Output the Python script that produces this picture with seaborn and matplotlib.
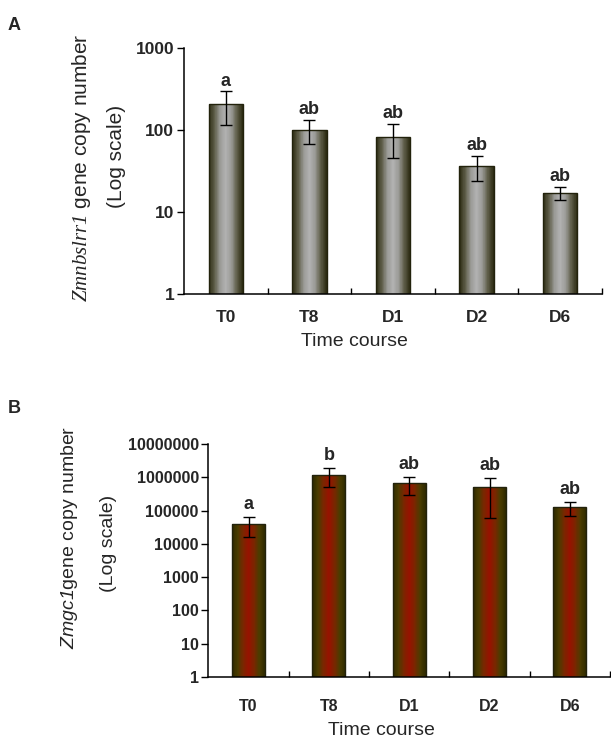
"""
Gene copy number over the time course (log scale bar charts, panels A and B)
"""

import numpy as np
import matplotlib
matplotlib.use('Agg')
import matplotlib.pyplot as plt
from matplotlib.colors import LinearSegmentedColormap
from matplotlib.ticker import NullLocator
import seaborn as sns

# data
times = ['T0', 'T8', 'D1', 'D2', 'D6']

a_means = [205, 100, 82, 36, 17]
a_err = [90, 32, 37, 12, 3]
a_letters = ['a', 'ab', 'ab', 'ab', 'ab']
a_yticks = [1, 10, 100, 1000]

b_means = [40000, 1200000, 670000, 520000, 127000]
b_err = [24000, 700000, 380000, 460000, 60000]
b_letters = ['a', 'b', 'ab', 'ab', 'ab']
b_yticks = [1, 10, 100, 1000, 10000, 100000, 1000000, 10000000]

sns.set_style('ticks')
plt.rcParams['font.family'] = ['Liberation Sans', 'DejaVu Sans']
plt.rcParams['mathtext.fontset'] = 'custom'
plt.rcParams['mathtext.it'] = 'Liberation Serif:italic'
plt.rcParams['mathtext.rm'] = 'Liberation Serif:italic'
plt.rcParams['mathtext.sf'] = 'Liberation Sans:italic'

SANS = ['Liberation Sans', 'DejaVu Sans']

grey_cmap = LinearSegmentedColormap.from_list(
    'grey_bar', ['#2e2d14', '#5e5d48', '#9a9a96', '#b2b2b2', '#9a9a96', '#5e5d48', '#2e2d14'])
red_cmap = LinearSegmentedColormap.from_list(
    'red_bar', ['#2f2a00', '#4a3c00', '#7a2600', '#981200', '#7a2600', '#4a3c00', '#2f2a00'])


def draw_panel(ax, means, errs, letters, cmap, yticks, xpad, ytick_size, xtick_size, letter_off):
    sns.barplot(x=times, y=means, ax=ax, width=0.41, color='white',
                edgecolor='#22220c', linewidth=1.0, errorbar=None, zorder=2)
    ax.set_yscale('log')
    ax.set_ylim(yticks[0], yticks[-1])
    ax.set_xlim(-0.5, 4.5)

    # gradient fill inside every bar
    for p in ax.patches:
        x0, w, top = p.get_x(), p.get_width(), p.get_height()
        xs = np.linspace(x0, x0 + w, 61)
        ax.pcolormesh(xs, [yticks[0], top], np.linspace(0, 1, 60)[None, :],
                      cmap=cmap, shading='flat', zorder=1.5)
        p.set_facecolor('none')

    ax.errorbar(range(len(times)), means, yerr=errs, fmt='none', ecolor='black',
                elinewidth=1.0, capsize=4.5, capthick=1.0, zorder=3)

    for i, (m, e, lab) in enumerate(zip(means, errs, letters)):
        ax.annotate(lab, xy=(i, m + e), xytext=(0, letter_off), textcoords='offset points',
                    ha='center', va='baseline', fontsize=13, fontweight='bold', family=SANS)

    ax.set_xticks(range(len(times)))
    ax.set_xticklabels(times, fontsize=xtick_size, fontweight='bold', family=SANS)
    ax.set_xticks(np.arange(0.5, 5, 1), minor=True)
    ax.tick_params(axis='x', which='major', length=0, pad=xpad)
    ax.tick_params(axis='x', which='minor', direction='in', length=4.5, width=1.0, color='black')

    ax.set_yticks(yticks)
    ax.set_yticklabels([str(v) for v in yticks], fontsize=ytick_size, fontweight='bold',
                       family=SANS)
    ax.yaxis.set_minor_locator(NullLocator())
    ax.tick_params(axis='y', which='major', direction='out', length=5, width=1.0,
                   color='black', pad=2)

    sns.despine(ax=ax)
    for s in ['left', 'bottom']:
        ax.spines[s].set_color('black')
        ax.spines[s].set_linewidth(1.1)
    ax.set_xlabel('')
    ax.set_ylabel('')


fig = plt.figure(figsize=(6.11, 7.40), dpi=100)
ax_a = fig.add_axes([0.3011, 0.6027, 0.6841, 0.3324])
ax_b = fig.add_axes([0.3412, 0.0851, 0.6571, 0.3149])

draw_panel(ax_a, a_means, a_err, a_letters, grey_cmap, a_yticks, xpad=11.5,
           ytick_size=12.5, xtick_size=12.5, letter_off=4.3)
draw_panel(ax_b, b_means, b_err, b_letters, red_cmap, b_yticks, xpad=16,
           ytick_size=11.5, xtick_size=11.5, letter_off=5.5)

# panel letters
fig.text(0.013, 0.977, 'A', fontsize=13, fontweight='bold', ha='left', va='top')
fig.text(0.013, 0.4595, 'B', fontsize=13, fontweight='bold', ha='left', va='top')

# y labels (two lines each)
fig.text(0.134, 0.773, r'$\mathit{Zmnbslrr1}$ gene copy number', rotation=90,
         fontsize=15, ha='center', va='center')
fig.text(0.191, 0.789, '(Log scale)', rotation=90, fontsize=15, ha='center', va='center')
fig.text(0.113, 0.2743, r'$\mathsf{Zmgc1}$gene copy number', rotation=90,
         fontsize=14, ha='center', va='center')
fig.text(0.1768, 0.265, '(Log scale)', rotation=90, fontsize=14, ha='center', va='center')

# x labels
fig.text(354 / 611, 1 - 341 / 740, 'Time course', fontsize=14, ha='center', va='center')
fig.text(381 / 611, 1 - 730.5 / 740, 'Time course', fontsize=14, ha='center', va='center')

fig.savefig('out.png', dpi=100)
